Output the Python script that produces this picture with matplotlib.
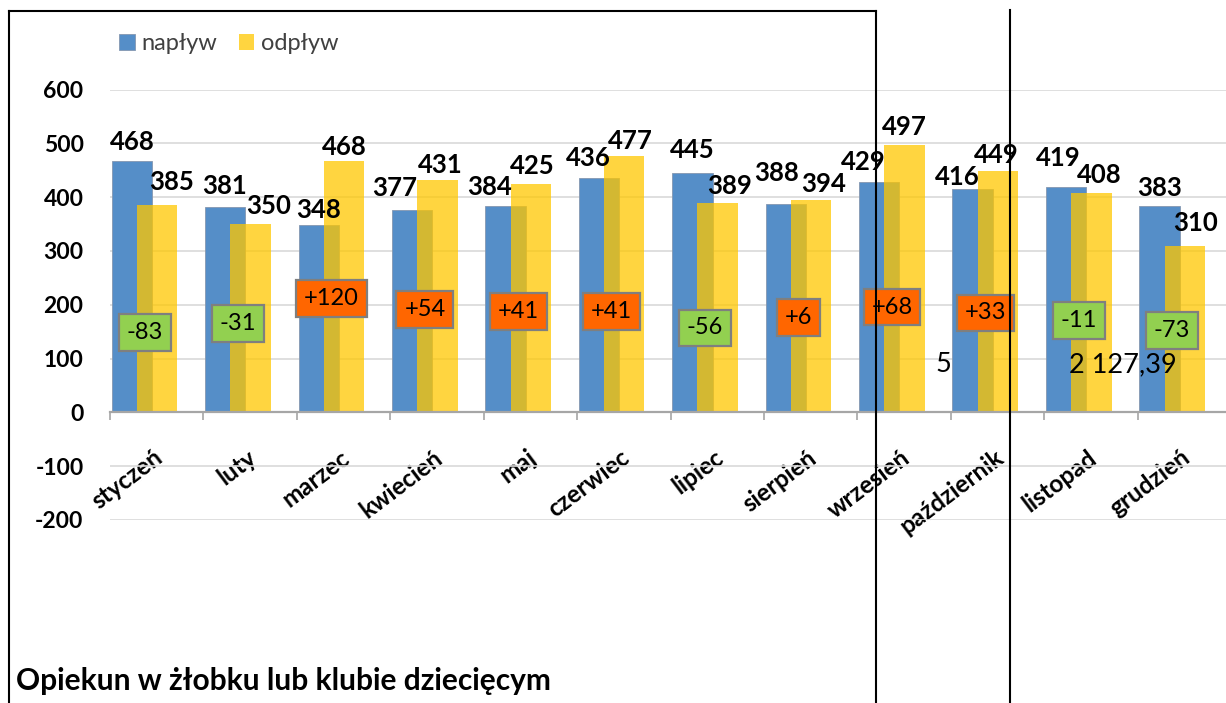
import matplotlib.pyplot as plt
import numpy as np
from matplotlib.lines import Line2D

plt.rcParams['font.family'] = ['Lato', 'DejaVu Sans']
plt.rcParams['axes.unicode_minus'] = False

# dane
miesiace = ['styczeń', 'luty', 'marzec', 'kwiecień', 'maj', 'czerwiec',
            'lipiec', 'sierpień', 'wrzesień', 'październik', 'listopad', 'grudzień']
naplyw = [468, 381, 348, 377, 384, 436, 445, 388, 429, 416, 419, 383]
odplyw = [385, 350, 468, 431, 425, 477, 389, 394, 497, 449, 408, 310]

# przesuniecia etykiet (piksele) - tak jak w oryginale
blue_dx = [0, -1, 0, -17, -16, -11, 0, -9, -16, -15, -8, 0]
blue_gap = [11, 13, 7, 14, 11, 12, 15, 23, 12, 4, 21, 10]
yel_dx = [14, 18, 0, 3, 1, 6, 12, 13, 0, -2, 8, 11]
yel_gap = [15, 10, 6, 7, 10, 7, 9, 8, 10, 8, 10, 15]

W, H = 1226, 703
fig = plt.figure(figsize=(W / 100, H / 100), dpi=100)
ax = fig.add_axes([110 / W, 183 / H, 1121 / W, 430.5 / H])

x = np.arange(len(miesiace))
bw = 0.432
b1 = ax.bar(x + 0.018, naplyw, width=bw, align='edge', color='#558EC8',
            edgecolor='#8497B0', linewidth=0.6, zorder=2, label='napływ')
b2 = ax.bar(x + 0.289, odplyw, width=bw, align='edge', color='#FFC700',
            alpha=0.75, zorder=3, label='odpływ')

# etykiety wartosci
for i in range(len(x)):
    ax.annotate(str(naplyw[i]), xy=(x[i] + 0.018 + bw / 2, naplyw[i]),
                xytext=(blue_dx[i], blue_gap[i]), textcoords='offset pixels',
                ha='center', va='baseline', fontsize=18.5, fontweight='bold', zorder=6)
    ax.annotate(str(odplyw[i]), xy=(x[i] + 0.289 + bw / 2, odplyw[i]),
                xytext=(yel_dx[i], yel_gap[i]), textcoords='offset pixels',
                ha='center', va='baseline', fontsize=18.5, fontweight='bold', zorder=6)

# roznica w ramkach
for i in range(len(x)):
    d = odplyw[i] - naplyw[i]
    txt = '%+d' % d
    kolor = '#FF6600' if d > 0 else '#92D050'
    ax.text(x[i] + 0.37, 174.5 + 0.31 * d, txt, ha='center', va='center',
            fontsize=17, zorder=7,
            bbox=dict(boxstyle='square,pad=0.33', fc=kolor, ec='#7F7F7F', lw=1.6))

ax.set_xlim(0, 12)
ax.set_ylim(-200, 600)
ax.set_yticks(range(-200, 601, 100))
ax.yaxis.grid(True, color='#D9D9D9', linewidth=1.2)
ax.set_axisbelow(True)

for s in ['top', 'right', 'left']:
    ax.spines[s].set_visible(False)
ax.spines['bottom'].set_position(('data', 0))
ax.spines['bottom'].set_color('#A6A6A6')
ax.spines['bottom'].set_linewidth(1.6)
ax.spines['bottom'].set_zorder(5)

ax.set_xticks(np.arange(0, 13))
ax.set_xticklabels([])
ax.set_xticks(x + 0.46, minor=True)
ax.set_xticklabels(miesiace, minor=True, fontsize=17.5, fontweight='bold')
ax.tick_params(axis='x', which='major', length=6, color='#A6A6A6', width=1.2)
ax.tick_params(axis='x', which='minor', length=0, pad=24)
plt.setp(ax.get_xticklabels(minor=True), rotation=37, ha='right', va='top',
         rotation_mode='anchor')

ax.tick_params(axis='y', length=0, pad=19, labelsize=16.5)
for t in ax.get_yticklabels():
    t.set_fontweight('bold')

ax.legend(handles=[b1, b2], loc='upper left', bbox_to_anchor=(119 / W, 1 - 33 / H),
          bbox_transform=fig.transFigure, ncol=2, frameon=False, fontsize=17,
          handlelength=0.66, handleheight=0.66, handletextpad=0.3, columnspacing=0.9,
          borderpad=0, borderaxespad=0, labelcolor='#404040')

# teksty z dokumentu
fig.text(943 / W, 1 - 372 / H, '5', ha='center', va='baseline', fontsize=19.5)
fig.text(1123 / W, 1 - 372 / H, '2 127,39', ha='center', va='baseline', fontsize=19.5)
fig.text(16 / W, 1 - 690 / H, 'Opiekun w żłobku lub klubie dziecięcym',
         ha='left', va='baseline', fontsize=21.5, fontweight='bold')

# linie ramki tabeli
def linia(x0, y0, x1, y1):
    fig.add_artist(Line2D([x0 / W, x1 / W], [1 - y0 / H, 1 - y1 / H],
                          color='black', linewidth=1.5))

linia(9, 11, 876, 11)
linia(9, 11, 9, 703)
linia(876, 11, 876, 703)
linia(1010, 10, 1010, 703)

fig.savefig('out.png', dpi=100)
